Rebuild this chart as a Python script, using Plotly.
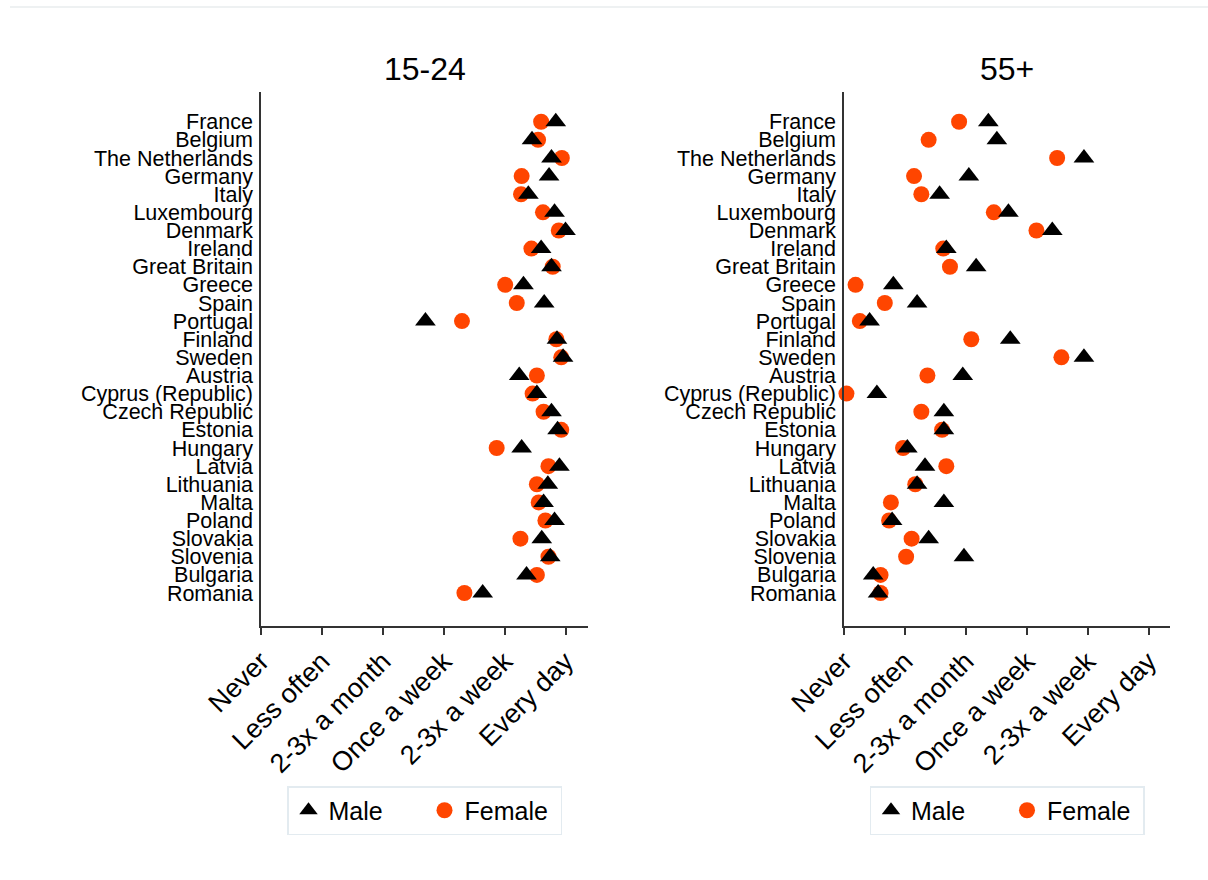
import plotly.graph_objects as go

# Countries, top to bottom
countries = [
    "France", "Belgium", "The Netherlands", "Germany", "Italy", "Luxembourg",
    "Denmark", "Ireland", "Great Britain", "Greece", "Spain", "Portugal",
    "Finland", "Sweden", "Austria", "Cyprus (Republic)", "Czech Republic",
    "Estonia", "Hungary", "Latvia", "Lithuania", "Malta", "Poland",
    "Slovakia", "Slovenia", "Bulgaria", "Romania",
]

# Frequency scale (0 = Never ... 5 = Every day)
freq_labels = ["Never", "Less often", "2-3x a month", "Once a week",
               "2-3x a week", "Every day"]
freq_values = [0, 1, 2, 3, 4, 5]

# Age group 15-24
young_male = [4.84, 4.45, 4.77, 4.73, 4.39, 4.82, 5.00, 4.60, 4.77, 4.31,
              4.65, 2.70, 4.86, 4.96, 4.24, 4.53, 4.77, 4.87, 4.28, 4.90,
              4.71, 4.64, 4.82, 4.61, 4.75, 4.36, 3.64]
young_female = [4.60, 4.55, 4.94, 4.28, 4.27, 4.63, 4.89, 4.44, 4.79, 4.01,
                4.20, 3.30, 4.85, 4.93, 4.53, 4.46, 4.64, 4.93, 3.87, 4.72,
                4.53, 4.56, 4.67, 4.26, 4.72, 4.53, 3.34]

# Age group 55+
old_male = [2.37, 2.51, 3.94, 2.05, 1.57, 2.70, 3.42, 1.68, 2.17, 0.81,
            1.20, 0.42, 2.73, 3.94, 1.95, 0.54, 1.64, 1.64, 1.04, 1.33,
            1.20, 1.64, 0.79, 1.39, 1.97, 0.48, 0.56]
old_female = [1.89, 1.39, 3.50, 1.15, 1.27, 2.46, 3.16, 1.63, 1.74, 0.19,
              0.67, 0.26, 2.09, 3.57, 1.37, 0.04, 1.27, 1.61, 0.97, 1.68,
              1.17, 0.77, 0.74, 1.11, 1.02, 0.60, 0.60]

panel_titles = ["15-24", "55+"]

W, H = 1208, 880
FONT = "Arial, Liberation Sans, sans-serif"
MALE_COLOR = "#000000"
FEMALE_COLOR = "#ff4500"
AXIS_COLOR = "#333333"


def px_x(p):
    return p / W


def px_y(p):
    return (H - p) / H


fig = go.Figure()

panels = [
    (young_male, young_female, "x", "y", "legend", (261, 588)),
    (old_male, old_female, "x2", "y2", "legend2", (844, 1170)),
]

for male, female, xa, ya, leg, _ in panels:
    fig.add_trace(go.Scatter(
        x=female, y=countries, mode="markers", name="Female",
        xaxis=xa, yaxis=ya, legend=leg, legendrank=2, cliponaxis=False,
        marker=dict(symbol="circle", size=16, color=FEMALE_COLOR,
                    line=dict(width=0)),
    ))
    fig.add_trace(go.Scatter(
        x=male, y=countries, mode="markers", name="Male",
        xaxis=xa, yaxis=ya, legend=leg, legendrank=1, cliponaxis=False,
        marker=dict(symbol="triangle-up", size=18, color=MALE_COLOR,
                    line=dict(width=0)),
    ))

y_top, y_bot = 92, 626
cat_range = [len(countries) - 1 + 1.82, -1.64]

xaxis_common = dict(
    tickmode="array", tickvals=freq_values, ticktext=freq_labels,
    tickangle=-45, ticks="outside", ticklen=7, tickwidth=1.5,
    tickcolor=AXIS_COLOR, showline=True, linecolor=AXIS_COLOR, linewidth=1.5,
    showgrid=False, zeroline=False, automargin=False,
    tickfont=dict(family=FONT, size=27, color="#000000"),
)
yaxis_common = dict(
    type="category", categoryorder="array", categoryarray=countries,
    tickmode="array", tickvals=countries, ticktext=countries,
    range=cat_range, showline=True, linecolor=AXIS_COLOR, linewidth=1.5,
    ticks="", showgrid=False, zeroline=False, automargin=False,
    ticklabelstandoff=2,
    tickfont=dict(family=FONT, size=21.5, color="#000000"),
    domain=[px_y(y_bot), px_y(y_top)],
)

layout_axes = {}
for i, (_, _, xa, ya, leg, (x0, x1)) in enumerate(panels):
    xname = "xaxis" if i == 0 else "xaxis2"
    yname = "yaxis" if i == 0 else "yaxis2"
    layout_axes[xname] = dict(
        xaxis_common, domain=[px_x(x0), px_x(x1)],
        range=[0, (x1 - x0) / 60.9], anchor=ya,
    )
    layout_axes[yname] = dict(yaxis_common, anchor=xa)

legend_common = dict(
    orientation="h", yanchor="top", xanchor="center", y=px_y(786),
    bgcolor="white", bordercolor="#e3ebf0", borderwidth=1.5,
    font=dict(family=FONT, size=25, color="#000000"),
    traceorder="normal", entrywidth=91, entrywidthmode="pixels",
    itemwidth=30,
)

annotations = []
for title, (_, _, _, _, _, (x0, x1)) in zip(panel_titles, panels):
    annotations.append(dict(
        text=title, x=px_x((x0 + x1) / 2), y=px_y(69), xref="paper",
        yref="paper", showarrow=False, xanchor="center", yanchor="middle",
        font=dict(family=FONT, size=32, color="#000000"),
    ))

fig.update_layout(
    width=W, height=H,
    margin=dict(l=0, r=0, t=0, b=0),
    paper_bgcolor="white", plot_bgcolor="white",
    showlegend=True,
    legend=dict(legend_common, x=px_x(424.5)),
    legend2=dict(legend_common, x=px_x(1007)),
    annotations=annotations,
    shapes=[dict(type="line", xref="paper", yref="paper",
                 x0=px_x(10), x1=1, y0=px_y(7), y1=px_y(7),
                 line=dict(color="#e8ecee", width=1.5))],
    **layout_axes,
)

fig.write_html("out.html")
